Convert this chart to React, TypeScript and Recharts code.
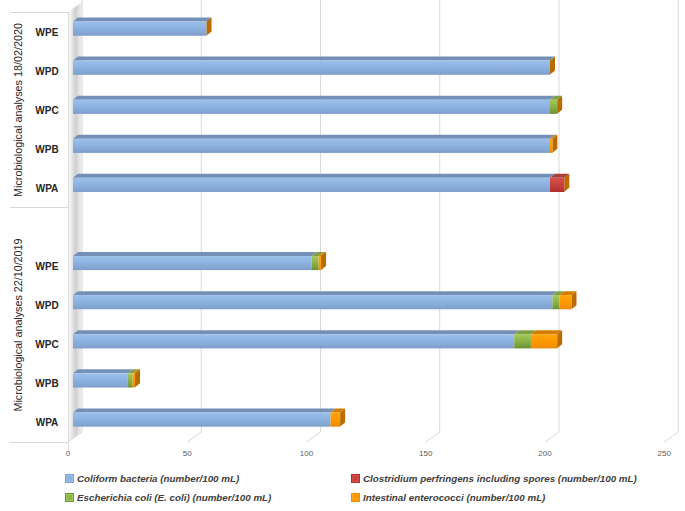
import React from 'react';
import { BarChart, Bar, XAxis, YAxis, CartesianGrid } from 'recharts';

const plants = ['WPE', 'WPD', 'WPC', 'WPB', 'WPA'];
const groupLabels = ['Microbiological analyses 18/02/2020', 'Microbiological analyses 22/10/2019'];

// analyses 18/02/2020
const coliform2020 = [56, 200, 200, 200, 200];
const clostridium2020 = [0, 0, 0, 0, 6];
const ecoli2020 = [0, 0, 3, 0, 0];
const enterococci2020 = [0, 0, 0, 1, 0];

// analyses 22/10/2019
const coliform2019 = [100, 201, 185, 23, 108];
const clostridium2019 = [0, 0, 0, 0, 0];
const ecoli2019 = [3, 3, 7, 2, 0];
const enterococci2019 = [1, 5, 11, 1, 4];

const xTicks = [0, 50, 100, 150, 200, 250];

const series = [
  { key: 'coliform', name: 'Coliform bacteria (number/100 mL)', front: '#8DB3E2', light: '#9DC0EA', dark: '#7F9FCB', top: '#7490B8' },
  { key: 'clostridium', name: 'Clostridium perfringens including spores (number/100 mL)', front: '#C8423F', light: '#D8504C', dark: '#B0302E', top: '#A8403C' },
  { key: 'ecoli', name: 'Escherichia coli (E. coli) (number/100 mL)', front: '#8DB54A', light: '#A3C85C', dark: '#6E9236', top: '#80A043' },
  { key: 'enterococci', name: 'Intestinal enterococci (number/100 mL)', front: '#FF9A00', light: '#FFA512', dark: '#F08C00', top: '#D27C00' },
];
const capColor = '#B86C00';

function group(tag: string, c: number[], cl: number[], e: number[], en: number[]) {
  return plants.map((p, i) => ({
    key: `${p}|${tag}`,
    label: p,
    coliform: c[i],
    clostridium: cl[i],
    ecoli: e[i],
    enterococci: en[i],
  }));
}

const rows = [
  ...group('2020', coliform2020, clostridium2020, ecoli2020, enterococci2020),
  { key: 'gap', label: '' },
  ...group('2019', coliform2019, clostridium2019, ecoli2019, enterococci2019),
];

const DX = 5;
const DY = 4;

function makeShape(s: typeof series[number], withCap: boolean) {
  return (props: any) => {
    const { x, y, width, height, payload } = props;
    if (!isFinite(x) || !isFinite(width) || !isFinite(y)) return <g />;
    const w = Math.max(width, 0);
    let cap = null;
    if (withCap && payload && payload.coliform > 0) {
      const k = w / payload.coliform;
      const total = series.reduce((a, q) => a + (payload[q.key] || 0), 0);
      const ex = x + total * k;
      cap = (
        <polygon
          points={`${ex},${y + DY} ${ex + DX},${y} ${ex + DX},${y + height - DY} ${ex},${y + height}`}
          fill={capColor}
        />
      );
    }
    if (w <= 0) return <g>{cap}</g>;
    return (
      <g>
        <polygon
          points={`${x},${y + DY} ${x + DX},${y} ${x + w + DX},${y} ${x + w},${y + DY}`}
          fill={s.top}
        />
        <rect x={x} y={y + DY} width={w} height={height - DY} fill={`url(#grad-${s.key})`} />
        <line x1={x} x2={x + w} y1={y + height - 0.5} y2={y + height - 0.5} stroke={s.dark} strokeWidth={1} />
        {cap}
      </g>
    );
  };
}

const YTick = (props: any) => {
  const { y, payload } = props;
  const label = String(payload.value).split('|')[0];
  if (label === 'gap') return <g />;
  return (
    <text x={47} y={y + 6} textAnchor="middle" dominantBaseline="central" fontSize={10} fontWeight="bold" fill="#262626" fontFamily="'Liberation Sans', Arial, sans-serif">
      {label}
    </text>
  );
};

const XTick = (props: any) => {
  const { x, payload } = props;
  return (
    <g>
      <line x1={x - 5} y1={442} x2={x + 9} y2={432} stroke="#D9D9D9" />
      <text x={x - 5} y={453} textAnchor="middle" dominantBaseline="central" fontSize={8} fill="#595959" fontFamily="'Liberation Sans', Arial, sans-serif">
        {payload.value}
      </text>
    </g>
  );
};

function LegendBox() {
  return (
    <div style={{ position: 'absolute', left: 0, top: 471, width: 685, height: 40 }}>
      {series.map((s, i) => {
        const col = i % 2;
        const row = Math.floor(i / 2);
        return (
          <div
            key={s.key}
            style={{
              position: 'absolute',
              left: col === 0 ? 66 : 352,
              top: row * 19,
              display: 'flex',
              alignItems: 'center',
              height: 14,
              whiteSpace: 'nowrap',
            }}
          >
            <span style={{ display: 'inline-block', width: 5, height: 5, background: s.front, border: `1px solid ${s.light}`, outline: `0.5px solid ${s.dark}`, marginRight: 4 }} />
            <span style={{ fontFamily: "'Liberation Sans', Arial, sans-serif", fontStyle: 'italic', fontWeight: 'bold', fontSize: 9.8, color: '#404040' }}>{s.name}</span>
          </div>
        );
      })}
    </div>
  );
}

function Backdrop() {
  return (
    <svg width={685} height={511} style={{ position: 'absolute', left: 0, top: 0 }}>
      <defs>
        <linearGradient id="wall" x1="0" y1="0" x2="1" y2="0">
          <stop offset="0%" stopColor="#ffffff" />
          <stop offset="55%" stopColor="#cfcfcf" />
          <stop offset="100%" stopColor="#f4f4f4" />
        </linearGradient>
      </defs>
      <polygon points="68,12 82,2 82,432 68,442" fill="url(#wall)" />
      <line x1={68.5} y1={12} x2={68.5} y2={452} stroke="#D9D9D9" />
      <line x1={10} y1={12.5} x2={68} y2={12.5} stroke="#D9D9D9" />
      <line x1={10} y1={207.5} x2={68} y2={207.5} stroke="#D9D9D9" />
      <line x1={10} y1={442.5} x2={68} y2={442.5} stroke="#D9D9D9" />
      <text
        transform="translate(18,110) rotate(-90)"
        textAnchor="middle"
        dominantBaseline="central"
        fontSize={11}
        fill="#262626"
        textLength={174}
        lengthAdjust="spacingAndGlyphs"
        fontFamily="'Liberation Sans', Arial, sans-serif"
      >
        {groupLabels[0]}
      </text>
      <text
        transform="translate(18,325) rotate(-90)"
        textAnchor="middle"
        dominantBaseline="central"
        fontSize={11}
        fill="#262626"
        textLength={173}
        lengthAdjust="spacingAndGlyphs"
        fontFamily="'Liberation Sans', Arial, sans-serif"
      >
        {groupLabels[1]}
      </text>
    </svg>
  );
}

export default function App() {
  return (
    <div style={{ position: 'relative', width: 685, height: 511, background: '#fff' }}>
      <style>{'body{margin:0}'}</style>
      <Backdrop />
      <BarChart
        width={685}
        height={511}
        data={rows}
        layout="vertical"
        barSize={18}
        margin={{ top: 6.5, right: 15.75, bottom: 44.5, left: 10 }}
      >
        <defs>
          {series.map((s) => (
            <linearGradient key={s.key} id={`grad-${s.key}`} x1="0" y1="0" x2="0" y2="1">
              <stop offset="0%" stopColor={s.light} />
              <stop offset="45%" stopColor={s.front} />
              <stop offset="100%" stopColor={s.dark} />
            </linearGradient>
          ))}
        </defs>
        <CartesianGrid
          horizontal={false}
          stroke="#D9D9D9"
          y={0}
          height={432}
          verticalCoordinatesGenerator={({ offset }: any) =>
            xTicks.map((t) => offset.left + (t / 250) * offset.width + 9)
          }
        />
        <XAxis
          type="number"
          domain={[0, 250]}
          ticks={xTicks}
          axisLine={false}
          tickLine={false}
          height={30}
          tick={<XTick />}
        />
        <YAxis
          type="category"
          dataKey="key"
          width={63}
          interval={0}
          axisLine={false}
          tickLine={false}
          tick={<YTick />}
        />
        {series.map((s, i) => (
          <Bar
            key={s.key}
            dataKey={s.key}
            name={s.name}
            stackId="a"
            fill={s.front}
            isAnimationActive={false}
            shape={makeShape(s, i === 0)}
          />
        ))}
      </BarChart>
      <LegendBox />
    </div>
  );
}
